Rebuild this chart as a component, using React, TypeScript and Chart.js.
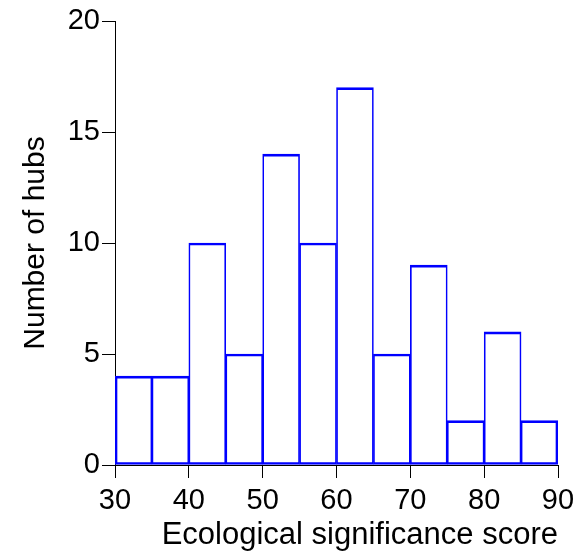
import React, { useEffect, useRef } from "react";
import { Chart, registerables } from "chart.js";

Chart.register(...registerables);

const binStarts = [30, 35, 40, 45, 50, 55, 60, 65, 70, 75, 80, 85];
const binWidth = 5;
const counts = [4, 4, 10, 5, 14, 10, 17, 5, 9, 2, 6, 2];
const xTickValues = [30, 40, 50, 60, 70, 80, 90];
const yTickValues = [0, 5, 10, 15, 20];
const xTitle = "Ecological significance score";
const yTitle = "Number of hubs";

const FONT = "'Liberation Sans', Arial, sans-serif";

export default function App() {
  const ref = useRef<HTMLCanvasElement | null>(null);

  useEffect(() => {
    document.body.style.margin = "0";
    const canvas = ref.current;
    if (!canvas) return;
    const last = counts.length - 1;
    const chart = new Chart(canvas, {
      type: "bar",
      data: {
        datasets: [
          {
            data: binStarts.map((s, i) => ({ x: s + binWidth / 2, y: counts[i] })),
            backgroundColor: "rgba(0,0,0,0)",
            borderColor: "#0000ff",
            borderWidth: (ctx: any) => ({
              left: ctx.dataIndex === 0 ? 2 : 1,
              right: ctx.dataIndex === last ? 2 : 1,
              top: 2,
              bottom: 2,
            }),
            borderSkipped: false,
            barPercentage: 1,
            categoryPercentage: 1,
          },
        ],
      },
      options: {
        animation: false,
        responsive: false,
        layout: { padding: { left: 0, top: 21, right: 28, bottom: 0 } },
        plugins: { legend: { display: false }, tooltip: { enabled: false } },
        scales: {
          x: {
            type: "linear",
            offset: false,
            min: xTickValues[0],
            max: xTickValues[xTickValues.length - 1],
            afterBuildTicks: (scale: any) => {
              scale.ticks = xTickValues.map((v) => ({ value: v }));
            },
            afterFit: (scale: any) => {
              scale.height = 93;
            },
            grid: {
              drawOnChartArea: false,
              drawTicks: true,
              tickLength: 13,
              color: "#000",
              lineWidth: 1,
              offset: false,
            },
            border: { display: true, color: "#000", width: 1 },
            ticks: {
              color: "#000",
              font: { family: FONT, size: 29 },
              padding: 6,
              maxRotation: 0,
              autoSkip: false,
            },
            title: {
              display: true,
              text: xTitle,
              align: "end",
              color: "#000",
              font: { family: FONT, size: 31 },
              padding: { top: 0, bottom: 4 },
            },
          },
          y: {
            min: yTickValues[0],
            max: yTickValues[yTickValues.length - 1],
            afterBuildTicks: (scale: any) => {
              scale.ticks = yTickValues.map((v) => ({ value: v }));
            },
            afterFit: (scale: any) => {
              scale.width = 115;
            },
            grid: {
              drawOnChartArea: false,
              drawTicks: true,
              tickLength: 13,
              color: "#000",
              lineWidth: 1,
            },
            border: { display: true, color: "#000", width: 1 },
            ticks: {
              color: "#000",
              font: { family: FONT, size: 29 },
              padding: 2,
              autoSkip: false,
            },
            title: {
              display: true,
              text: yTitle,
              color: "#000",
              font: { family: FONT, size: 30 },
              padding: { top: 18, bottom: 0 },
            },
          },
        },
      },
    });
    return () => chart.destroy();
  }, []);

  return (
    <div style={{ width: 586, height: 558 }}>
      <canvas ref={ref} width={586} height={558} style={{ display: "block" }} />
    </div>
  );
}
